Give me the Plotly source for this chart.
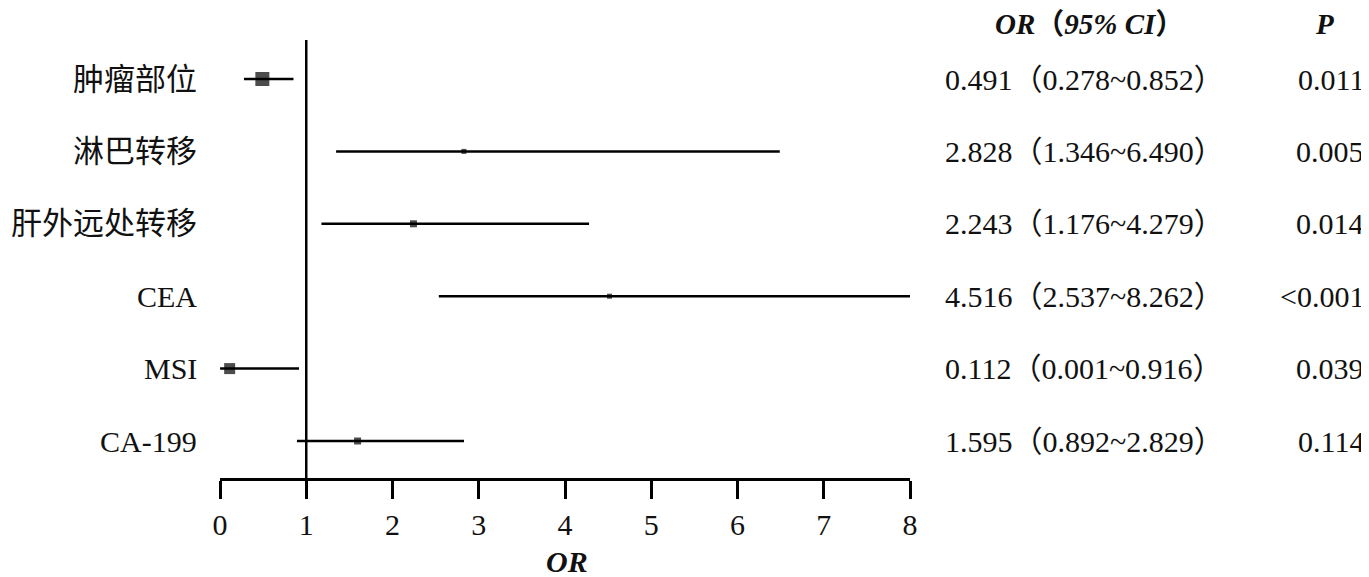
import re
import plotly.graph_objects as go

labels = ["肿瘤部位", "淋巴转移", "肝外远处转移", "CEA", "MSI", "CA-199"]
or_vals = [0.491, 2.828, 2.243, 4.516, 0.112, 1.595]
ci_low = [0.278, 1.346, 1.176, 2.537, 0.001, 0.892]
ci_high = [0.852, 6.490, 4.279, 8.262, 0.916, 2.829]
p_text = ["0.011", "0.005", "0.014", "<0.001", "0.039", "0.114"]
marker_sizes = [14, 5, 7, 5, 11, 7]
x_ticks = [0, 1, 2, 3, 4, 5, 6, 7, 8]

rows = list(range(1, len(labels) + 1))
ci_text = [f"{o:.3f}（{l:.3f}~{h:.3f}）" for o, l, h in zip(or_vals, ci_low, ci_high)]

OFF = 8  # page body margin
W, H = 1369 - OFF, 577 - OFF
L, R, T, B = 220 - OFF, 910 - OFF, 40 - OFF, 478 - OFF
pw, ph = R - L, B - T

def px(xp):
    return (xp - OFF - L) / pw

def py(yp):
    return (B - (yp - OFF)) / ph

SERIF = "Liberation Serif, Times New Roman, Noto Sans CJK SC, serif"
INK = "#111111"

fig = go.Figure()
fig.add_trace(go.Scatter(
    x=or_vals, y=rows, mode="markers",
    marker=dict(symbol="square", size=marker_sizes, color="black", line=dict(width=0)),
    error_x=dict(type="data", symmetric=False,
                 array=[h - o for o, h in zip(or_vals, ci_high)],
                 arrayminus=[o - l for o, l in zip(or_vals, ci_low)],
                 color="black", thickness=2.5, width=0),
    showlegend=False, cliponaxis=True,
))

fig.add_shape(type="line", xref="x", yref="paper", x0=1, x1=1, y0=0, y1=1,
              line=dict(color="black", width=2.5))

anns = []
for r, lab, ct, pt in zip(rows, labels, ci_text, p_text):
    cjk = re.search(r"[\u4e00-\u9fff]", lab) is not None
    anns.append(dict(x=px(199), y=r, xref="paper", yref="y", text=lab, showarrow=False,
                     xanchor="right", yanchor="middle",
                     font=dict(size=31 if cjk else 30, family=SERIF, color=INK)))
    anns.append(dict(x=px(943), y=r, xref="paper", yref="y", text=ct, showarrow=False,
                     xanchor="left", yanchor="middle", font=dict(size=30, family=SERIF, color=INK)))
    anns.append(dict(x=px(1366), y=r, xref="paper", yref="y", text=pt, showarrow=False,
                     xanchor="right", yanchor="middle", font=dict(size=30, family=SERIF, color=INK)))

anns.append(dict(x=px(1089), y=py(24), xref="paper", yref="paper",
                 text="<b><i>OR</i></b><b>（</b><b><i>95% CI</i></b><b>）</b>", showarrow=False,
                 xanchor="center", yanchor="middle", font=dict(size=29, family=SERIF, color=INK)))
anns.append(dict(x=px(1324), y=py(24), xref="paper", yref="paper",
                 text="<b><i>P</i></b>", showarrow=False,
                 xanchor="center", yanchor="middle", font=dict(size=29, family=SERIF, color=INK)))
anns.append(dict(x=px(567), y=py(561), xref="paper", yref="paper",
                 text="<b><i>OR</i></b>", showarrow=False,
                 xanchor="center", yanchor="middle", font=dict(size=30, family=SERIF, color=INK)))

row_gap = 72.4
top_val = 1 - (79 - 40) / row_gap
bot_val = len(labels) + (478 - 441) / row_gap

fig.update_layout(
    width=W, height=H,
    margin=dict(l=L, r=W - R, t=T, b=H - B, pad=0),
    plot_bgcolor="white", paper_bgcolor="white",
    annotations=anns,
    xaxis=dict(range=[0, 8], tickvals=x_ticks, ticktext=[str(v) for v in x_ticks],
               showgrid=False, zeroline=False, showline=True, linecolor="black", linewidth=2.5,
               ticks="outside", ticklen=18, tickwidth=2.5, tickcolor="black",
               tickfont=dict(size=30, family=SERIF, color=INK), fixedrange=True),
    yaxis=dict(range=[bot_val, top_val], showgrid=False, zeroline=False, showline=False,
               showticklabels=False, ticks="", fixedrange=True),
)

fig.write_html("out.html")
